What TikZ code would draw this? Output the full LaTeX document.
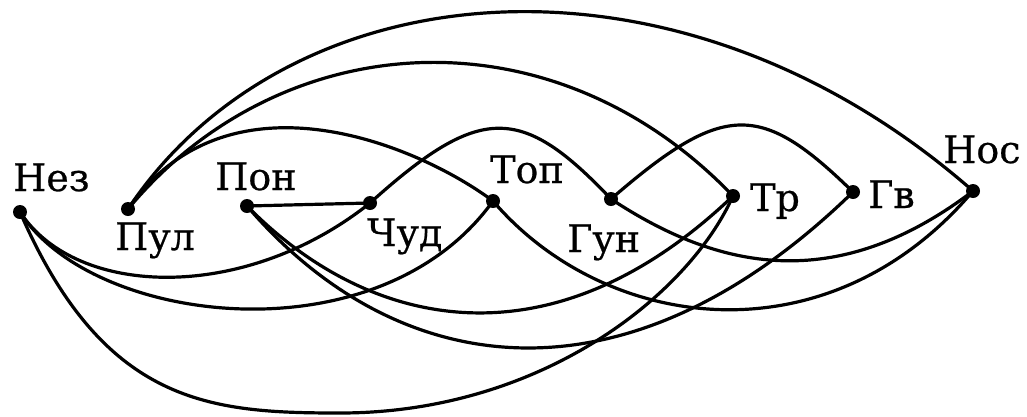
\documentclass[tikz,border=0pt]{standalone}
\usepackage{fontspec}
\setmainfont[FakeBold=0.6]{DejaVu Serif}
\begin{document}
\begin{tikzpicture}[x=1pt,y=-1pt,
  dot/.style={circle,fill=black,inner sep=0pt,minimum size=14pt},
  lbl/.style={inner sep=0pt,anchor=base west,font=\fontsize{38}{40}\selectfont},
  edge/.style={line width=3.2pt,line cap=round}]
\useasboundingbox (0,0) rectangle (1027,416);
% vertices
\node[dot] (nez) at (20,212) {};
\node[dot] (pul) at (128,209) {};
\node[dot] (pon) at (247,206) {};
\node[dot] (chud) at (370,203) {};
\node[dot] (top) at (493,201) {};
\node[dot] (gun) at (611,199) {};
\node[dot] (tr) at (733,196) {};
\node[dot] (gv) at (853,192) {};
\node[dot] (nos) at (973,191) {};
% labels
\node[lbl] (lnez) at (13,191) {Нез};
\node[lbl] (lpul) at (115,250) {Пул};
\node[lbl] (lpon) at (215,190) {Пон};
\node[lbl] (lchud) at (367,246) {Чуд};
\node[lbl] (ltop) at (490,183) {Топ};
\node[lbl] (lgun) at (567,252) {Гун};
\node[lbl] (ltr) at (750,211) {Тр};
\node[lbl] (lgv) at (868,208) {Гв};
\node[lbl] (lnos) at (943,163) {Нос};
% upper arcs
\draw[edge] (pul.center) .. controls (289,-33) and (678,-68) .. (nos.center);
\draw[edge] (pul.center) .. controls (281,25) and (552,7) .. (tr.center);
\draw[edge] (pul.center) .. controls (228,65) and (418,145) .. (top.center);
\draw[edge] (chud.center) .. controls (480,104) and (521,104) .. (gun.center);
\draw[edge] (gun.center) .. controls (724,101) and (761,102) .. (gv.center);
% straight
\draw[edge] (pon.center) -- (chud.center);
% lower arcs
\draw[edge] (nez.center) .. controls (77,299) and (246,302) .. (chud.center);
\draw[edge] (nez.center) .. controls (91,325) and (378,361) .. (top.center);
\coordinate (nb) at (340,413);
\draw[edge] (nez.center) .. controls (104,405) and (210,413) .. (nb)
            .. controls (540,413) and (688,296) .. (tr.center);
\draw[edge] (pon.center) .. controls (372,333) and (554,367) .. (tr.center);
\draw[edge] (pon.center) .. controls (396,380) and (624,415) .. (gv.center);
\draw[edge] (top.center) .. controls (605,332) and (827,363) .. (nos.center);
\draw[edge] (gun.center) .. controls (717,269) and (835,296) .. (nos.center);
\end{tikzpicture}
\end{document}
